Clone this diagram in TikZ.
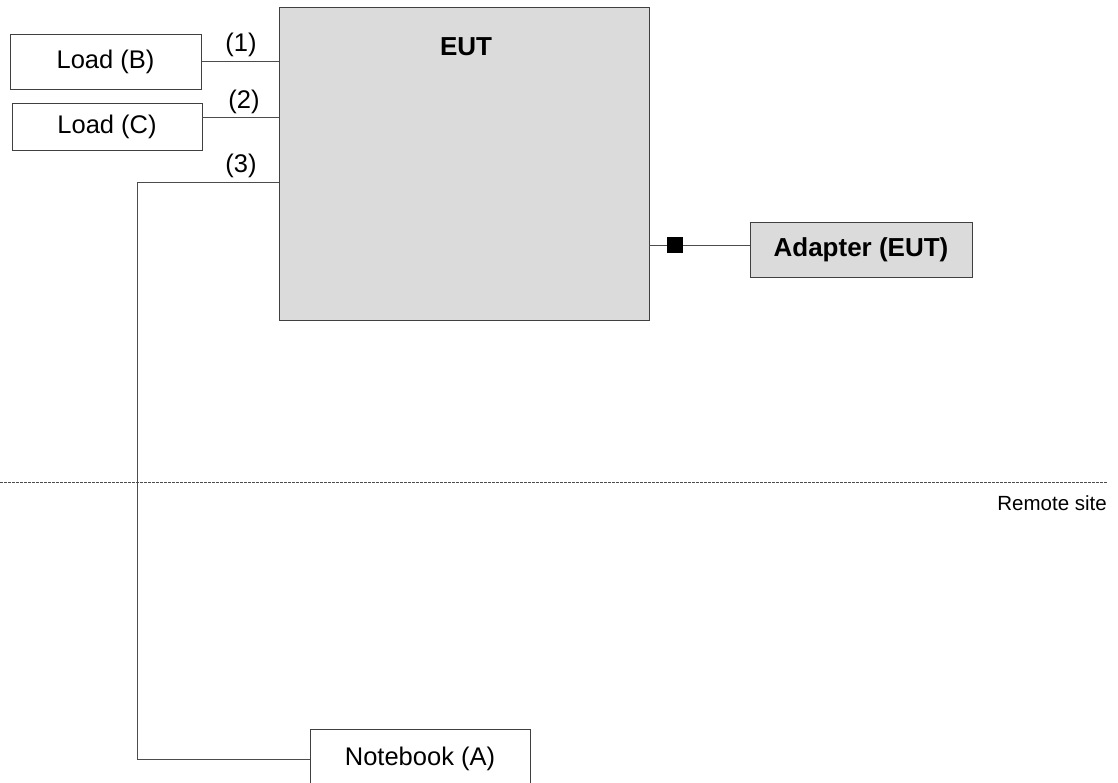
\documentclass[tikz,border=0pt]{standalone}
\usepackage{fontspec}
\setmainfont{Liberation Sans}
\begin{document}
\begin{tikzpicture}[x=1pt,y=-1pt,
  box/.style={draw=black!75,line width=0.8pt,rectangle,inner sep=0pt,font=\fontsize{25.5}{29}\selectfont},
  gbox/.style={box,fill=black!14},
  wire/.style={draw=black!70,line width=0.8pt},
  lbl/.style={font=\fontsize{25.5}{29}\selectfont,inner sep=0pt},
  bold/.style={font=\fontsize{26}{30}\bfseries\selectfont}]
\useasboundingbox (0,0) rectangle (1118,782);
% EUT
\node[gbox,minimum width=370pt,minimum height=313pt] (eut) at (464,163.5) {};
\node[lbl,bold] (euttxt) at (466,47) {EUT};
% loads
\node[box,minimum width=191pt,minimum height=55pt] (lb) at (105.5,61.5) {Load (B)};
\node[box,minimum width=190pt,minimum height=47pt] (lc) at (107,126.5) {Load (C)};
% adapter
\node[gbox,minimum width=222pt,minimum height=55pt,bold] (ad) at (861,249.5) {Adapter (EUT)};
% notebook
\node[box,minimum width=220pt,minimum height=70pt] (nb) at (420,764) {};
\node[lbl] (nbtxt) at (420,759) {Notebook (A)};
% connectors
\coordinate (p1) at (279,61);
\coordinate (p2) at (279,117);
\coordinate (p3) at (279,182);
\coordinate (c3) at (137,182);
\coordinate (c4) at (137,759);
\coordinate (n3) at (310,759);
\draw[wire] (lb.east |- p1) -- (p1);
\draw[wire] (lc.east |- p2) -- (p2);
\draw[wire] (p3) -- (c3) -- (c4) -- (n3);
\node[lbl] (l1) at (241,45) {(1)};
\node[lbl] (l2) at (244,102) {(2)};
\node[lbl] (l3) at (241,166) {(3)};
% adapter link
\coordinate (pa) at (649,245);
\draw[wire] (pa) -- (ad.west |- pa);
\node[fill=black,minimum size=16pt,inner sep=0pt] (sq) at (674.5,245) {};
% remote site
\coordinate (d1) at (0,482);
\coordinate (d2) at (1108,482);
\draw[draw=black!70,line width=0.8pt,dash pattern=on 2.5pt off 1.5pt] (d1) -- (d2);
\node[lbl,font=\fontsize{20.5}{24}\selectfont,anchor=east] (rs) at (1107,503) {Remote site};
\end{tikzpicture}
\end{document}
